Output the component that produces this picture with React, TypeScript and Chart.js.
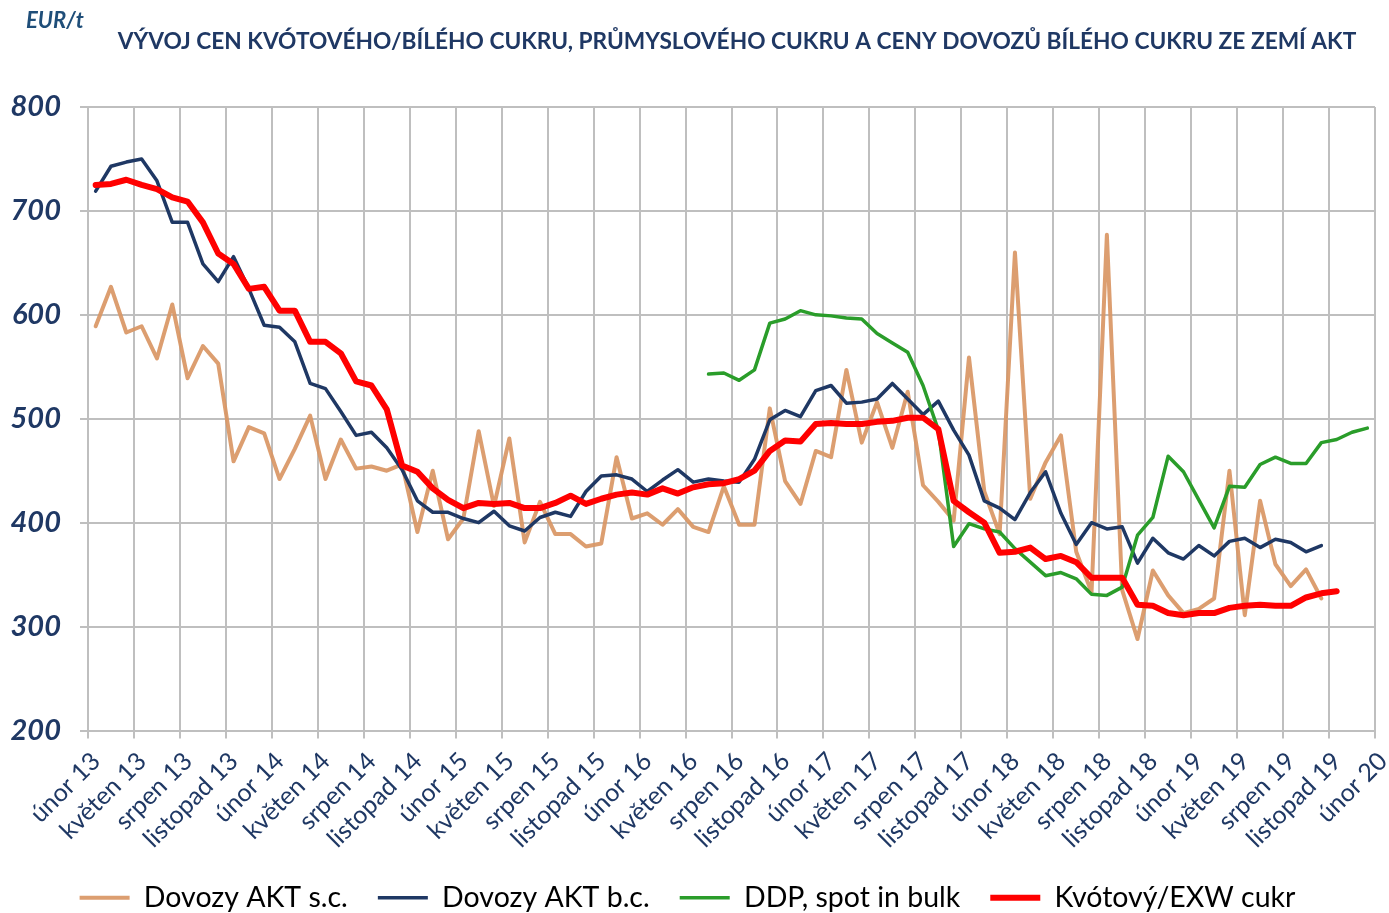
import React, { useEffect, useRef } from 'react';
import { Chart, registerables } from 'chart.js';

Chart.register(...registerables);

const TITLE = 'VÝVOJ CEN KVÓTOVÉHO/BÍLÉHO CUKRU, PRŮMYSLOVÉHO CUKRU A CENY DOVOZŮ BÍLÉHO CUKRU ZE ZEMÍ AKT';
const UNIT = 'EUR/t';

// one tick label every 3 months, Feb 2013 .. Feb 2020
const TICK_LABELS = [
  'únor 13', 'květen 13', 'srpen 13', 'listopad 13',
  'únor 14', 'květen 14', 'srpen 14', 'listopad 14',
  'únor 15', 'květen 15', 'srpen 15', 'listopad 15',
  'únor 16', 'květen 16', 'srpen 16', 'listopad 16',
  'únor 17', 'květen 17', 'srpen 17', 'listopad 17',
  'únor 18', 'květen 18', 'srpen 18', 'listopad 18',
  'únor 19', 'květen 19', 'srpen 19', 'listopad 19',
  'únor 20',
];

const SERIES_NAMES = ['Dovozy AKT s.c.', 'Dovozy AKT b.c.', 'DDP, spot in bulk', 'Kvótový/EXW cukr'];

// monthly values, month 0 = únor 13
const DOVOZY_SC = [
  589, 627, 583, 589, 558, 610, 539, 570, 553, 459, 492, 486,
  442, 471, 503, 442, 480, 452, 454, 450, 456, 391, 450, 384,
  404, 488, 416, 481, 381, 420, 389, 389, 377, 380, 463, 404,
  409, 398, 413, 396, 391, 435, 398, 398, 510, 440, 418, 469,
  463, 547, 477, 516, 472, 526, 436, 420, 402, 559, 430, 389,
  660, 423, 458, 484, 372, 333, 677, 335, 288, 354, 330, 313,
  317, 327, 450, 311, 421, 360, 339, 355, 327, null, null, null,
];

const DOVOZY_BC = [
  719, 743, 747, 750, 729, 689, 689, 649, 632, 656, 625, 590,
  588, 574, 534, 529, 507, 484, 487, 472, 451, 421, 410, 410,
  404, 400, 411, 397, 392, 405, 410, 406, 430, 445, 446, 442,
  430, 441, 451, 439, 442, 440, 439, 461, 499, 508, 502, 527,
  532, 515, 516, 519, 534, 519, 504, 517, 489, 465, 421, 414,
  403, 429, 449, 409, 379, 400, 394, 396, 361, 385, 371, 365,
  378, 368, 382, 385, 376, 384, 381, 372, 378, null, null, null,
];

const DDP_SPOT = [
  null, null, null, null, null, null, null, null, null, null, null, null,
  null, null, null, null, null, null, null, null, null, null, null, null,
  null, null, null, null, null, null, null, null, null, null, null, null,
  null, null, null, null, 543, 544, 537, 547, 592, 596, 604, 600,
  599, 597, 596, 582, 573, 564, 532, 489, 377, 399, 394, 391,
  375, 362, 349, 352, 346, 331, 330, 338, 388, 405, 464, 449,
  422, 395, 435, 434, 456, 463, 457, 457, 477, 480, 487, 491,
];

const KVOTOVY_EXW = [
  725, 726, 730, 725, 721, 713, 709, 689, 659, 649, 625, 627,
  604, 604, 574, 574, 563, 536, 532, 509, 455, 449, 433, 422,
  414, 419, 418, 419, 414, 414, 419, 426, 418, 423, 427, 429,
  427, 433, 428, 434, 437, 438, 442, 450, 469, 479, 478, 495,
  496, 495, 495, 497, 498, 501, 501, 490, 421, 410, 400, 371,
  372, 376, 365, 368, 362, 347, 347, 347, 321, 320, 313, 311,
  313, 313, 318, 320, 321, 320, 320, 328, 332, 334, null, null,
];

const Y_MIN = 200;
const Y_MAX = 800;
const Y_STEP = 100;
const MONTHS_ON_AXIS = 84;
const MONTHS_PER_TICK = 3;

const NAVY = '#1F3864';
const GRID = '#BFBFBF';
const FONT = 'Lato, "Open Sans", sans-serif';

const toPoints = (arr: (number | null)[]) => arr.map((v, i) => ({ x: i + 0.5, y: v }));

const textPlugin = {
  id: 'extraTexts',
  afterDraw(chart: any) {
    const ctx = chart.ctx as CanvasRenderingContext2D;
    ctx.save();
    ctx.textBaseline = 'middle';
    ctx.textAlign = 'left';
    ctx.fillStyle = '#1F4E79';
    ctx.font = `italic bold 22px ${FONT}`;
    ctx.fillText(UNIT, 26, 21);
    ctx.fillStyle = NAVY;
    ctx.font = `bold 22.7px ${FONT}`;
    ctx.textAlign = 'center';
    ctx.fillText(TITLE, 737, 42);
    ctx.restore();
  },
};

export default function App() {
  const canvasRef = useRef<HTMLCanvasElement | null>(null);

  useEffect(() => {
    if (!canvasRef.current) return;
    const chart = new Chart(canvasRef.current, {
      type: 'line',
      data: {
        datasets: [
          {
            label: SERIES_NAMES[0],
            data: toPoints(DOVOZY_SC),
            borderColor: 'rgba(217,150,100,0.92)',
            backgroundColor: 'rgba(217,150,100,0.92)',
            borderWidth: 4,
            order: 3,
          },
          {
            label: SERIES_NAMES[1],
            data: toPoints(DOVOZY_BC),
            borderColor: NAVY,
            backgroundColor: NAVY,
            borderWidth: 3.5,
            order: 2,
          },
          {
            label: SERIES_NAMES[2],
            data: toPoints(DDP_SPOT),
            borderColor: '#2A9D2A',
            backgroundColor: '#2A9D2A',
            borderWidth: 3.5,
            order: 1,
          },
          {
            label: SERIES_NAMES[3],
            data: toPoints(KVOTOVY_EXW),
            borderColor: '#FF0000',
            backgroundColor: '#FF0000',
            borderWidth: 6,
            order: 0,
          },
        ] as any,
      },
      options: {
        animation: false,
        responsive: true,
        maintainAspectRatio: false,
        elements: {
          point: { radius: 0, hoverRadius: 0 },
          line: { tension: 0, borderJoinStyle: 'round', borderCapStyle: 'round', fill: false },
        },
        layout: { padding: { top: 107, right: 14, left: 0, bottom: -9 } },
        plugins: {
          legend: {
            position: 'bottom',
            labels: {
              usePointStyle: true,
              pointStyle: 'line',
              pointStyleWidth: 50,
              padding: 30,
              color: '#000000',
              font: { family: FONT, size: 28.5 },
              sort: (a: any, b: any) => a.datasetIndex - b.datasetIndex,
            },
          },
          tooltip: { enabled: false },
          title: { display: false },
        },
        scales: {
          x: {
            type: 'linear',
            min: 0,
            max: MONTHS_ON_AXIS,
            afterBuildTicks: (scale: any) => {
              scale.ticks = TICK_LABELS.map((_, k) => ({ value: k * MONTHS_PER_TICK }));
            },
            afterFit: (scale: any) => {
              scale.height = 123;
              scale.paddingRight = 0;
              scale.paddingLeft = 0;
            },
            ticks: {
              autoSkip: false,
              minRotation: 45,
              maxRotation: 45,
              labelOffset: 8,
              padding: 8,
              color: NAVY,
              font: { family: FONT, size: 25 },
              callback: (value: any) => TICK_LABELS[Math.round(Number(value) / MONTHS_PER_TICK)] ?? '',
            },
            grid: { color: GRID, lineWidth: 2, tickLength: 8, drawTicks: true },
            border: { color: GRID, width: 2 },
          },
          y: {
            min: Y_MIN,
            max: Y_MAX,
            afterFit: (scale: any) => {
              scale.width = 88;
            },
            ticks: {
              stepSize: Y_STEP,
              padding: 19,
              color: NAVY,
              font: { family: FONT, size: 29, weight: 'bold', style: 'italic' },
            },
            grid: { color: GRID, lineWidth: 2, tickLength: 8, drawTicks: true },
            border: { color: GRID, width: 2 },
          },
        },
      } as any,
      plugins: [textPlugin],
    });
    return () => chart.destroy();
  }, []);

  return (
    <div style={{ position: 'fixed', left: 0, top: 0, width: 1389, height: 913, background: '#FFFFFF' }}>
      <canvas ref={canvasRef} />
    </div>
  );
}
